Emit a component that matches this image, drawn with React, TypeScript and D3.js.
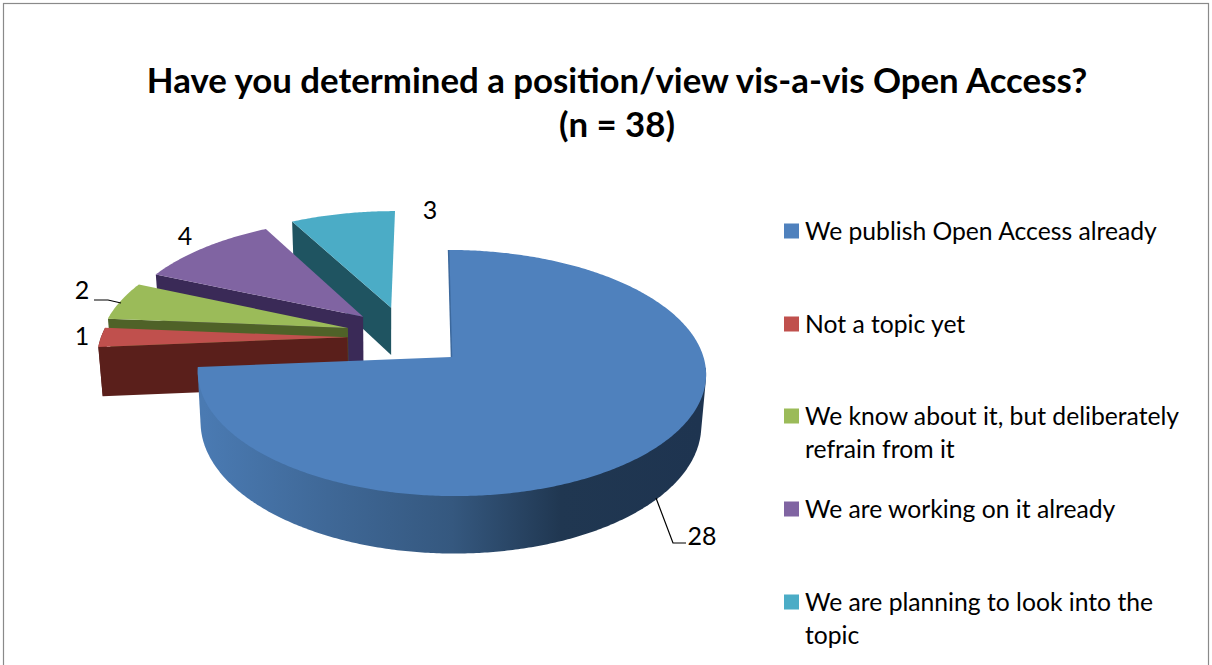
import React from "react";
import * as d3 from "d3";

const categories = [
  "We publish Open Access already",
  "Not a topic yet",
  "We know about it, but deliberately refrain from it",
  "We are working on it already",
  "We are planning to look into the topic",
];
const values = [28, 1, 2, 4, 3];
const titleLines = ["Have you determined a position/view vis-a-vis Open Access?", "(n = 38)"];

const topColors = ["#4f81bd", "#c0504d", "#9bbb59", "#8064a2", "#4bacc6"];
const wallColors = ["#2f4f78", "#5a1f1b", "#4f6228", "#3a2a57", "#1f5461"];

// layout of the exploded 3D pie (disc coordinates, unit radius)
const explode: [number, number][] = [
  [-0.006, 0],
  [-0.425, 0.167],
  [-0.427, 0.248],
  [-0.368, 0.347],
  [-0.253, 0.43],
];
const legendLines = [
  ["We publish Open Access already"],
  ["Not a topic yet"],
  ["We know about it, but deliberately", "refrain from it"],
  ["We are working on it already"],
  ["We are planning to look into the", "topic"],
];

const CX = 453, CY = 357, RX = 252, RY = 121, K = 0.13, SKEW = 3.5, DEPTH = 50, SHRINK = 0.985;

type Pt = [number, number];
const project = (X: number, Y: number, bottom = false): Pt => {
  const s = 1 / (1 + K * Y);
  const x = CX + (RX * X - SKEW * Y) * s;
  const y = CY - RY * Y * s;
  return bottom ? [CX + (x - CX) * SHRINK - 1, y + DEPTH * s] : [x, y];
};
const disc = (i: number, r: number, a: number, bottom = false) =>
  project(explode[i][0] + r * Math.sin(a), explode[i][1] + r * Math.cos(a), bottom);

const line = d3.line<Pt>().curve(d3.curveLinear);
const arcAngles = (a0: number, a1: number) => {
  const n = Math.max(2, Math.ceil(Math.abs(a1 - a0) / 0.01));
  return d3.range(n + 1).map((k) => a0 + ((a1 - a0) * k) / n);
};

export default function App() {
  const slices = d3.pie<number>().sort(null).startAngle(0).endAngle(2 * Math.PI)(values);
  const order = [4, 3, 2, 1];
  const font = "Lato, 'Open Sans', sans-serif";

  const topFace = (i: number) => {
    const { startAngle: a0, endAngle: a1 } = slices[i];
    return line([disc(i, 0, 0), ...arcAngles(a0, a1).map((a) => disc(i, 1, a))])! + "Z";
  };
  const startWall = (i: number) => {
    const a = slices[i].startAngle;
    return line([disc(i, 0, 0), disc(i, 1, a), disc(i, 1, a, true), disc(i, 0, 0, true)])! + "Z";
  };
  const outerWall = (i: number, a0: number, a1: number) => {
    const as = arcAngles(a0, a1);
    const hull = d3.polygonHull([
      ...as.map((a) => disc(i, 1, a)),
      ...as.map((a) => disc(i, 1, a, true)),
    ] as Pt[]);
    return line(hull as Pt[])! + "Z";
  };

  const labelX = [702, 82, 82, 185, 430];
  const labelY = [545, 345, 299, 245, 219];
  const legendY = [231, 324, 416, 509, 602];

  return (
    <svg
      width={1212}
      height={665}
      style={{ position: "absolute", left: 0, top: 0, background: "#fff" }}
      fontFamily={font}
    >
      <defs>
        <linearGradient id="mainWall" gradientUnits="userSpaceOnUse" x1={204} x2={700} y1={0} y2={0}>
          <stop offset="0" stopColor="#4a7ab2" />
          <stop offset="0.25" stopColor="#3f6897" />
          <stop offset="0.5" stopColor="#35587f" />
          <stop offset="0.72" stopColor="#203751" />
          <stop offset="1" stopColor="#1e3450" />
        </linearGradient>
      </defs>
      <rect x={3.5} y={3.5} width={1205} height={680} fill="#fff" stroke="#8a8a8a" strokeWidth={1.2} />

      {titleLines.map((t, i) => (
        <text key={t} x={617} y={[93, 137][i]} textAnchor="middle" fontWeight={700} fontSize={34.8} fill="#000">
          {t}
        </text>
      ))}

      {order.map((i) => (
        <g key={categories[i]}>
          {i === 1 && <path d={outerWall(i, slices[i].startAngle, slices[i].endAngle)} fill={wallColors[i]} />}
          <path d={startWall(i)} fill={wallColors[i]} />
          <path d={topFace(i)} fill={topColors[i]} />
        </g>
      ))}

      <path d={outerWall(0, (95 * Math.PI) / 180, slices[0].endAngle)} fill="url(#mainWall)" />
      <path d={topFace(0)} fill={topColors[0]} />
      <path d={line([disc(0, 0, 0), disc(0, 1, 0)])!} stroke="#3c689c" strokeWidth={1.5} fill="none" />

      {values.map((v, i) => (
        <text key={i} x={labelX[i]} y={labelY[i]} textAnchor="middle" fontSize={25} fill="#000">
          {v}
        </text>
      ))}
      <path d={line([[656, 498], [673, 543], [686, 543]])!} fill="none" stroke="#000" strokeWidth={1.2} />
      <path d="M94,300 L108,300 L121,303" fill="none" stroke="#000" strokeWidth={1.2} />

      {categories.map((c, i) => (
        <g key={c}>
          <rect x={784} y={legendY[i] - 7.5} width={15} height={15} fill={topColors[i]} />
          {legendLines[i].map((l, j) => (
            <text key={l} x={805} y={legendY[i] + 8.5 + j * 33} fontSize={24.7} fill="#000">
              {l}
            </text>
          ))}
        </g>
      ))}
    </svg>
  );
}
